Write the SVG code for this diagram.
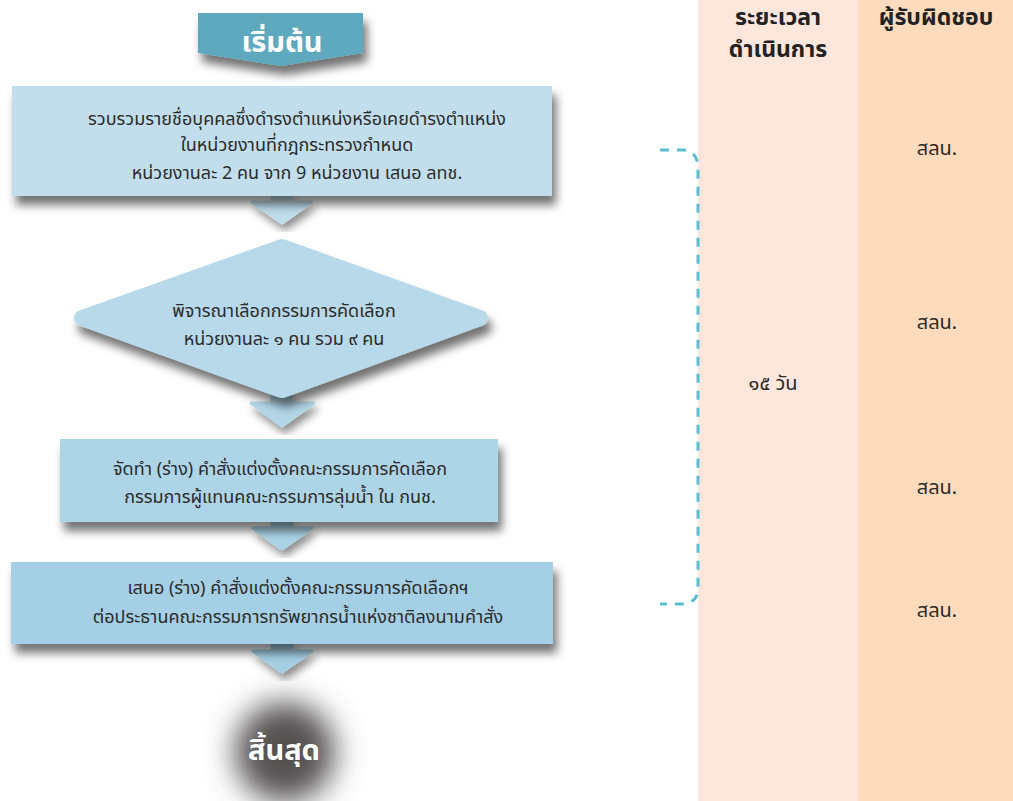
<svg xmlns="http://www.w3.org/2000/svg" width="1013" height="801" viewBox="0 0 1013 801">
<defs>
<style>
.t{font-family:"Noto Sans Thai","Noto Sans","DejaVu Sans",sans-serif;font-size:18px;fill:#2b2b2b;text-anchor:middle}
.s{font-family:"Noto Sans Thai","Noto Sans","DejaVu Sans",sans-serif;font-size:20px;fill:#2b2b2b;text-anchor:middle}
.h{font-family:"Noto Sans Thai","Noto Sans","DejaVu Sans",sans-serif;font-size:23px;font-weight:bold;fill:#222;text-anchor:middle}
.w{font-family:"Noto Sans Thai","Noto Sans","DejaVu Sans",sans-serif;font-size:29px;font-weight:bold;fill:#fff;text-anchor:middle}
</style>
<filter id="sh" x="-10%" y="-20%" width="125%" height="150%">
<feDropShadow dx="4" dy="9" stdDeviation="5" flood-color="#000" flood-opacity="0.55"/>
</filter>
<filter id="sh2" x="-10%" y="-20%" width="125%" height="150%">
<feDropShadow dx="3" dy="6" stdDeviation="4" flood-color="#000" flood-opacity="0.45"/>
</filter>
<filter id="blur" x="-50%" y="-50%" width="200%" height="200%">
<feGaussianBlur stdDeviation="15"/>
</filter>
</defs>
<rect width="1013" height="801" fill="#fff"/>
<g id="columns">
<rect x="698" y="0" width="160" height="801" fill="#FDE6DC"/>
<rect x="858" y="0" width="155" height="801" fill="#FDDBBC"/>
<text class="h" x="778" y="25">ระยะเวลา</text>
<text class="h" x="778" y="57">ดำเนินการ</text>
<text class="h" x="936" y="25">ผู้รับผิดชอบ</text>
<text class="s" x="773" y="390">๑๕ วัน</text>
<text class="s" x="937" y="155">สลน.</text>
<text class="s" x="937" y="329">สลน.</text>
<text class="s" x="937" y="494">สลน.</text>
<text class="s" x="937" y="617">สลน.</text>
</g>
<g id="connectors">
<path d="M252 202 H272 V196 H292 V202 H312 L282 223 Z" fill="#C0DDEB" stroke="#C0DDEB" stroke-width="3" stroke-linejoin="round" filter="url(#sh2)"/>
<path d="M251 403 H272 V396 H292 V403 H314 L282 426 Z" fill="#B3D7E8" stroke="#B3D7E8" stroke-width="3" stroke-linejoin="round" filter="url(#sh2)"/>
<path d="M253 528 H272 V522 H292 V528 H312 L282 549 Z" fill="#ABD3E6" stroke="#ABD3E6" stroke-width="3" stroke-linejoin="round" filter="url(#sh2)"/>
<path d="M253 651 H272 V644 H292 V651 H312 L282 672 Z" fill="#A5CFE4" stroke="#A5CFE4" stroke-width="3" stroke-linejoin="round" filter="url(#sh2)"/>
<path d="M660 150 H684 Q698 152 698 168 V588 Q698 602 684 604 H660" fill="none" stroke="#5BBFD0" stroke-width="3" stroke-dasharray="9 8"/>
</g>
<g id="start">
<path d="M198 13 H363 V53 L281 66 L198 53 Z" fill="#5FA9BF" filter="url(#sh)"/>
<text class="w" x="282" y="52">เริ่มต้น</text>
</g>
<g id="step1">
<rect x="12" y="86" width="540" height="110" fill="#C2DEEC" filter="url(#sh)"/>
<text class="t" x="297" y="125">รวบรวมรายชื่อบุคคลซึ่งดำรงตำแหน่งหรือเคยดำรงตำแหน่ง</text>
<text class="t" x="297" y="151">ในหน่วยงานที่กฎกระทรวงกำหนด</text>
<text class="t" x="297" y="179">หน่วยงานละ 2 คน จาก 9 หน่วยงาน เสนอ ลทช.</text>
</g>
<g id="step2">
<polygon points="282,247 480,318 282,390 82,318" fill="#B7D9E9" stroke="#B7D9E9" stroke-width="16" stroke-linejoin="round" filter="url(#sh)"/>
<text class="t" x="284" y="317">พิจารณาเลือกกรรมการคัดเลือก</text>
<text class="t" x="284" y="345">หน่วยงานละ ๑ คน รวม ๙ คน</text>
</g>
<g id="step3">
<rect x="60" y="439" width="438" height="83" fill="#AED4E7" filter="url(#sh)"/>
<text class="t" x="280" y="475">จัดทำ (ร่าง) คำสั่งแต่งตั้งคณะกรรมการคัดเลือก</text>
<text class="t" x="280" y="503">กรรมการผู้แทนคณะกรรมการลุ่มน้ำ ใน กนช.</text>
</g>
<g id="step4">
<rect x="11" y="562" width="542" height="82" fill="#A5CFE4" filter="url(#sh)"/>
<text class="t" x="298" y="594">เสนอ (ร่าง) คำสั่งแต่งตั้งคณะกรรมการคัดเลือกฯ</text>
<text class="t" x="298" y="623">ต่อประธานคณะกรรมการทรัพยากรน้ำแห่งชาติลงนามคำสั่ง</text>
</g>
<g id="end">
<circle cx="285" cy="752" r="50" fill="#555151" filter="url(#blur)"/>
<text class="w" x="284" y="760">สิ้นสุด</text>
</g>
</svg>
